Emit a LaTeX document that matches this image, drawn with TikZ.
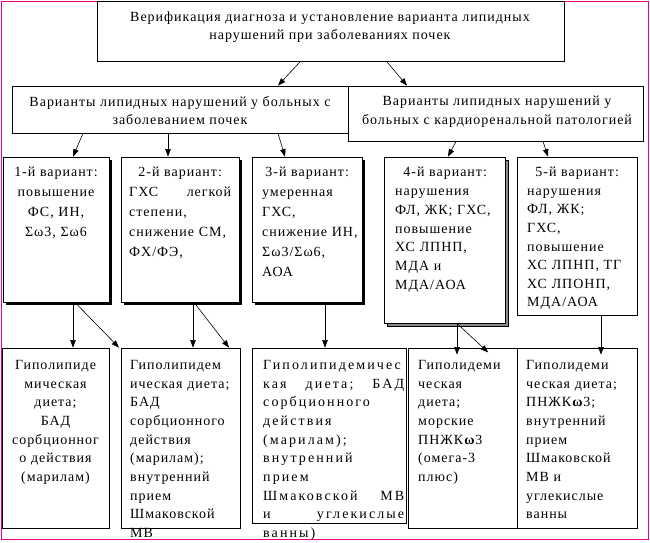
\documentclass[tikz,border=0pt]{standalone}
\usepackage{fontspec}
\setmainfont{Liberation Serif}[LetterSpace=7]
\usetikzlibrary{positioning,shadows,arrows.meta}

\begin{document}
\begin{tikzpicture}[x=1pt,y=-1pt,
        box/.style={draw, line width=0.8pt, fill=white, inner sep=0pt},
        shbox/.style={box, drop shadow={shadow xshift=2.5pt, shadow yshift=-2.5pt, fill=black, opacity=1}},
        grshbox/.style={box, drop shadow={shadow xshift=3pt, shadow yshift=-3pt, draw=black, fill=black!45, opacity=1}},
        txt/.style={anchor=north west, inner sep=0pt, align=left},
        arr/.style={-{Triangle[length=7.5pt,width=5.5pt]}, line width=0.6pt}]
        \useasboundingbox (0,0) rectangle (650,542);

        % Frame round the whole scheme
        \draw[magenta, line width=1pt] (1,1) rectangle (648,539);

        % Draw the boxes of the first two levels
        \node[box, minimum width=467pt, minimum height=60pt] (verif) at (330.5,31.5) {};
        \node[box, minimum width=336pt, minimum height=47pt] (kidney) at (180,109.5) {};
        \node[box, minimum width=295pt, minimum height=55pt] (cardio) at (495.5,113.5) {};

        % Draw the five variant boxes
        \node[shbox, minimum width=106pt, minimum height=145pt] (var1) at (56,229.5) {};
        \node[shbox, minimum width=118pt, minimum height=145pt] (var2) at (180,229.5) {};
        \node[shbox, minimum width=110pt, minimum height=145pt] (var3) at (307,229.5) {};
        \node[grshbox, minimum width=121pt, minimum height=166pt] (var4) at (444.5,240) {};
        \node[box, minimum width=120pt, minimum height=158pt] (var5) at (577,236) {};

        % Draw the therapy boxes
        \node[box, minimum width=107pt, minimum height=180pt] (diet1) at (55.5,438) {};
        \node[box, minimum width=119pt, minimum height=180pt] (diet2) at (180.5,438) {};
        \node[box, minimum width=154pt, minimum height=175pt] (diet3) at (329,435.5) {};
        \node[box, minimum width=109pt, minimum height=180pt] (diet4) at (462.5,438) {};
        \node[box, minimum width=120pt, minimum height=180pt] (diet5) at (577,438) {};

        % Add the texts of the first two levels
        \node[txt, anchor=north, align=center, font=\fontsize{14}{18}\selectfont] (veriftxt) at (330,12)
            {Верификация диагноза и установление варианта липидных\\нарушений при заболеваниях почек};
        \node[txt, anchor=north, align=center, font=\fontsize{14}{18}\selectfont] (kidneytxt) at (180,96)
            {Варианты липидных нарушений у больных с\\заболеванием почек};
        \node[txt, anchor=north, align=center, font=\fontsize{14}{19}\selectfont] (cardiotxt) at (497,96)
            {Варианты липидных нарушений у\\больных с кардиоренальной патологией};

        % Add the texts of the variants
        \node[txt, anchor=north, align=center, text width=104pt, font=\fontsize{14}{20}\selectfont] (var1txt) at (56,167)
            {1-й вариант:\\повышение\\ФС, ИН,\\Σω3, Σω6};
        \node[txt, text width=102pt, font=\fontsize{14}{20}\selectfont] (var2txt) at (129,167)
            {\makebox[102pt]{2-й вариант:}\\ГХС\hfill легкой\\степени,\\снижение СМ,\\ФХ/ФЭ,};
        \node[txt, text width=106pt, font=\fontsize{14}{20}\selectfont] (var3txt) at (262,167)
            {\makebox[90pt]{3-й вариант:}\\умеренная\\ГХС,\\снижение ИН,\\Σω3/Σω6,\\АОА};
        \node[txt, text width=108pt, font=\fontsize{14}{18.8}\selectfont] (var4txt) at (395,167)
            {\makebox[100pt]{4-й вариант:}\\нарушения\\ФЛ, ЖК; ГХС,\\повышение\\ХС ЛПНП,\\МДА и\\МДА/АОА};
        \node[txt, text width=108pt, font=\fontsize{14}{18.6}\selectfont] (var5txt) at (527,167)
            {\makebox[100pt]{5-й вариант:}\\нарушения\\ФЛ, ЖК;\\ГХС,\\повышение\\ХС ЛПНП, ТГ\\ХС ЛПОНП,\\МДА/АОА};

        % Add the texts of the therapy boxes
        \node[txt, anchor=north, align=center, text width=104pt, font=\fontsize{14}{18.7}\selectfont] (diet1txt) at (55.5,360)
            {Гиполипиде\\мическая\\диета;\\БАД\\сорбционног\\о действия\\(марилам)};
        \node[txt, text width=110pt, font=\fontsize{14}{18.7}\selectfont] (diet2txt) at (130,360)
            {Гиполипидем\\ическая диета;\\БАД\\сорбционного\\действия\\(марилам);\\внутренний\\прием\\Шмаковской\\МВ};
        \node[txt, text width=141pt, font=\fontsize{14}{18.7}\addfontfeatures{LetterSpace=15}\selectfont] (diet3txt) at (263,360)
            {Гиполипидемичес\\кая\hfill диета;\hfill БАД\\сорбционного\\действия\\(марилам);\\внутренний\\прием\\Шмаковской\hfill МВ\\и\hfill углекислые\\ванны)};
        \node[txt, text width=98pt, font=\fontsize{14}{18.7}\selectfont] (diet4txt) at (418,360)
            {Гиполидеми\\ческая\\диета;\\морские\\ПНЖК\textbf{ω}3\\(омега-3\\плюс)};
        \node[txt, text width=110pt, font=\fontsize{14}{18.7}\selectfont] (diet5txt) at (526,360)
            {Гиполидеми\\ческая диета;\\ПНЖК\textbf{ω}3;\\внутренний\\прием\\Шмаковской\\МВ и\\углекислые\\ванны};

        % Connect the levels with arrows
        \draw[arr] (verif.south -| 300,0) -- (kidney.north -| 278,0);
        \draw[arr] (verif.south -| 387,0) -- (cardio.north -| 407,0);
        \draw[arr] (kidney.south -| 83,0) -- (var1.north -| 73,0);
        \draw[arr] (kidney.south -| 168,0) -- (var2.north -| 168,0);
        \draw[arr] (kidney.south -| 278,0) -- (var3.north -| 285,0);
        \draw[arr] (cardio.south -| 456,0) -- (var4.north -| 448,0);
        \draw[arr] (cardio.south -| 543,0) -- (var5.north -| 548,0);
        \draw[arr] (var1.south -| 73,0) -- (diet1.north -| 73,0);
        \draw[arr] (var1.south -| 75,0) -- (diet2.north -| 119,0);
        \draw[arr] (var2.south -| 193,0) -- (diet2.north -| 193,0);
        \draw[arr] (var2.south -| 194,0) -- (diet2.north -| 229,0);
        \draw[arr] (var3.south -| 325,0) -- (diet3.north -| 325,0);
        \draw[arr, shorten >=-7pt] (var4.south -| 457,0) -- (diet4.north -| 457,0);
        \draw[arr, shorten >=-7pt] (var4.south -| 457,0) -- (diet4.north -| 483,0);
        \draw[arr, shorten >=-7pt] (var5.south -| 601,0) -- (diet5.north -| 601,0);

    \end{tikzpicture}
\end{document}
